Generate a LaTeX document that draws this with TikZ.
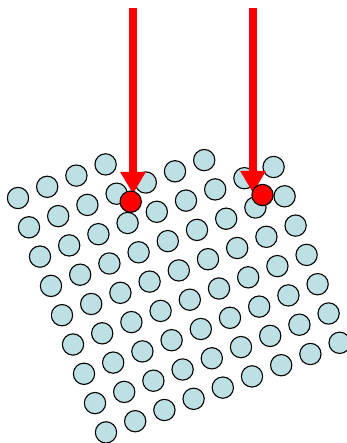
\documentclass[tikz,border=0pt]{standalone}
\usetikzlibrary{arrows.meta}
\definecolor{atomblue}{RGB}{188,224,227}

\begin{document}
\begin{tikzpicture}[x=1pt,y=-1pt,
    atom/.style={circle,draw=black,line width=1.1pt,fill=atomblue,minimum size=21.3pt,inner sep=0pt},
    hit/.style={atom,fill=red},
    beam/.style={red,line width=8pt,-{Triangle[width=24pt,length=22pt]}}]
  \useasboundingbox (0,0) rectangle (346,443);
  % lattice, rows j=0..8 (top rows cut short)
  \foreach \j in {0,...,8} {
    \pgfmathtruncatemacro\imax{\j==0 ? 3 : (\j==1 ? 6 : 8)}
    \foreach \i in {0,...,\imax}
      \node[atom] (a-\i-\j) at ({18+29.2*\i+11.0*\j},{198-11.2*\i+29.3*\j}) {};
  }
  % incoming beams
  \coordinate (src1) at (133,8);   \coordinate (tip1) at (133,194);
  \coordinate (src2) at (253,8);   \coordinate (tip2) at (253,193);
  \draw[beam] (src1) -- (tip1);
  \draw[beam] (src2) -- (tip2);
  % displaced atoms
  \node[hit] (hit1) at (130.7,201.7) {};
  \node[hit] (hit2) at (262.5,195) {};
\end{tikzpicture}
\end{document}
